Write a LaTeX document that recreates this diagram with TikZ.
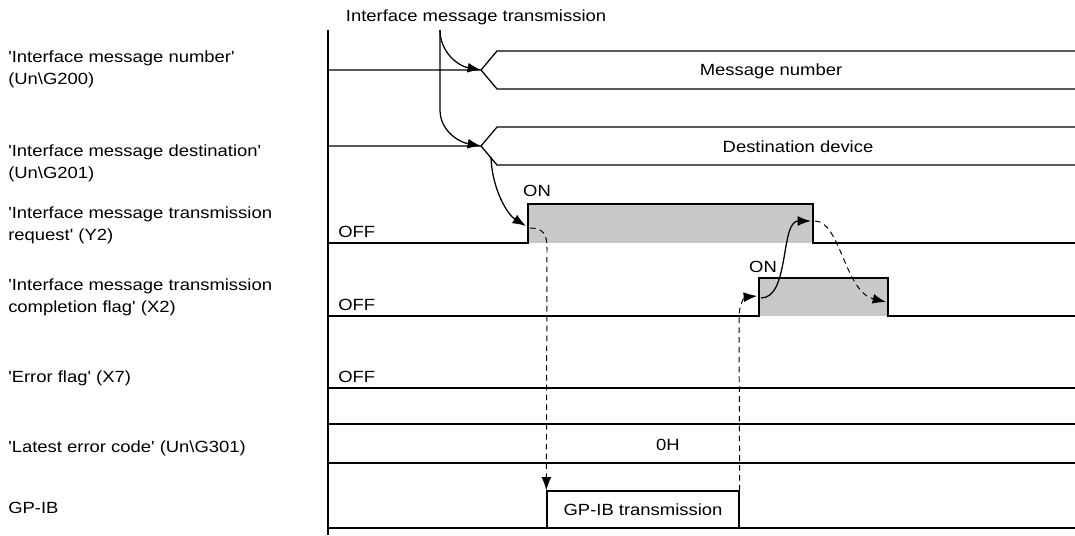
\documentclass[tikz,border=0pt]{standalone}
\usepackage{fontspec}
\newfontfamily\arial{Liberation Sans}[FakeStretch=1.14]
\usetikzlibrary{arrows.meta}
\usetikzlibrary{calc}
\usetikzlibrary{positioning}
\definecolor{ongray}{RGB}{200,200,200}

\begin{document}
\begin{tikzpicture}
	[
	x = 0.025cm, y = -0.025cm,
	> = {Latex[length=9.5pt,width=7pt]},
	font = \fontsize{11.5}{15.6}\arial,
	sig/.style = {line width=0.9pt},
	dsh/.style = {line width=0.7pt, dash pattern=on 4pt off 3pt},
	txt/.style = {inner sep=0pt},
	lbl/.style = {inner sep=0pt, anchor=west, align=left}
	]

	\useasboundingbox (0,0) rectangle (1075,535);

	% signal names
	\node[lbl] (lNum)  at (8,69)  {'Interface message number'\\(Un\textbackslash G200)};
	\node[lbl] (lDst)  at (8,163) {'Interface message destination'\\(Un\textbackslash G201)};
	\node[lbl] (lReq)  at (8,225) {'Interface message transmission\\request' (Y2)};
	\node[lbl] (lCmp)  at (8,297) {'Interface message transmission\\completion flag' (X2)};
	\node[lbl] (lErr)  at (8,378) {'Error flag' (X7)};
	\node[lbl] (lCode) at (8,448) {'Latest error code' (Un\textbackslash G301)};
	\node[lbl] (lGp)   at (8,508) {GP-IB};

	% time axis
	\coordinate (@top) at (328,30);
	\coordinate (@bot) at (328,535);
	\draw[sig] (@top) -- (@bot);

	% trigger
	\node[txt] (trig) at (476,17) {Interface message transmission};
	\coordinate (@t0) at (440,30);
	\coordinate (@t1) at (440,110);

	% message number
	\coordinate (@n0) at (328,70);
	\coordinate (@n1) at (481,70);
	\draw[sig] (@n0) -- (@n1) -- (497,51) -- (1075,51);
	\draw[sig] (@n1) -- (497,89) -- (1075,89);
	\node[txt] (num) at (771,71) {Message number};
	\draw[sig,->] (@t0) .. controls (440,52) and (458,66) .. (@n1);

	% destination
	\coordinate (@d0) at (328,146);
	\coordinate (@d1) at (481,146);
	\draw[sig] (@d0) -- (@d1) -- (497,127) -- (1075,127);
	\draw[sig] (@d1) -- (497,165) -- (1075,165);
	\node[txt] (dst) at (798,147) {Destination device};
	\draw[sig,->] (@t0) -- (@t1) .. controls (440,130) and (458,142) .. (@d1);

	% request (Y2)
	\coordinate (@r0)   at (328,243);
	\coordinate (@rOn)  at (528,243);
	\coordinate (@rOff) at (813,243);
	\coordinate (@r1)   at (1075,243);
	\fill[ongray] (@rOn) rectangle (813,204);
	\draw[sig] (@r0) -- (@rOn) -- ++(0,-39) -| (@rOff) -- (@r1);
	\node[txt] (onY)  at (537,191) {ON};
	\node[txt, anchor=west] (offY) at (338,232) {OFF};

	% completion flag (X2)
	\coordinate (@c0)   at (328,316);
	\coordinate (@cOn)  at (759,316);
	\coordinate (@cOff) at (888,316);
	\coordinate (@c1)   at (1075,316);
	\fill[ongray] (@cOn) rectangle (888,278);
	\draw[sig] (@c0) -- (@cOn) -- ++(0,-38) -| (@cOff) -- (@c1);
	\node[txt] (onX)  at (763,267) {ON};
	\node[txt, anchor=west] (offX) at (338,305) {OFF};

	% error flag (X7)
	\coordinate (@e0) at (328,388);
	\coordinate (@e1) at (1075,388);
	\draw[sig] (@e0) -- (@e1);
	\node[txt, anchor=west] (offE) at (338,377) {OFF};

	% latest error code
	\draw[sig] (328,424) -- (1075,424);
	\draw[sig] (328,463) -- (1075,463);
	\node[txt] (code) at (668,445) {0H};

	% GP-IB
	\node[draw, sig, inner sep=0pt, minimum width=4.8cm, minimum height=0.925cm] (gpib) at (643,509.5) {GP-IB transmission};
	\draw[sig] (328,528) -- (1075,528);

	% handshake arrows
	\coordinate (@a1) at (491,157);
	\coordinate (@a2) at (526,226);
	\draw[sig,->] (@a1) .. controls (492,190) and (508,215) .. (@a2);

	\coordinate (@a3) at (530,228);
	\draw[dsh,->] (@a3) .. controls (543,228) and (547,234) .. (547,248) -- (gpib.north west);

	\coordinate (@a4) at (757,296);
	\draw[dsh,->] (gpib.north east) -- (739,318) .. controls (739,303) and (745,297) .. (@a4);

	\coordinate (@a5) at (761,298);
	\coordinate (@a6) at (811,221);
	\draw[sig,->] (@a5) .. controls (790,298) and (780,221) .. (@a6);

	\coordinate (@a7) at (815,221);
	\coordinate (@a8) at (886,302);
	\draw[dsh,->] (@a7) .. controls (840,221) and (845,292) .. (@a8);

\end{tikzpicture}
\end{document}
